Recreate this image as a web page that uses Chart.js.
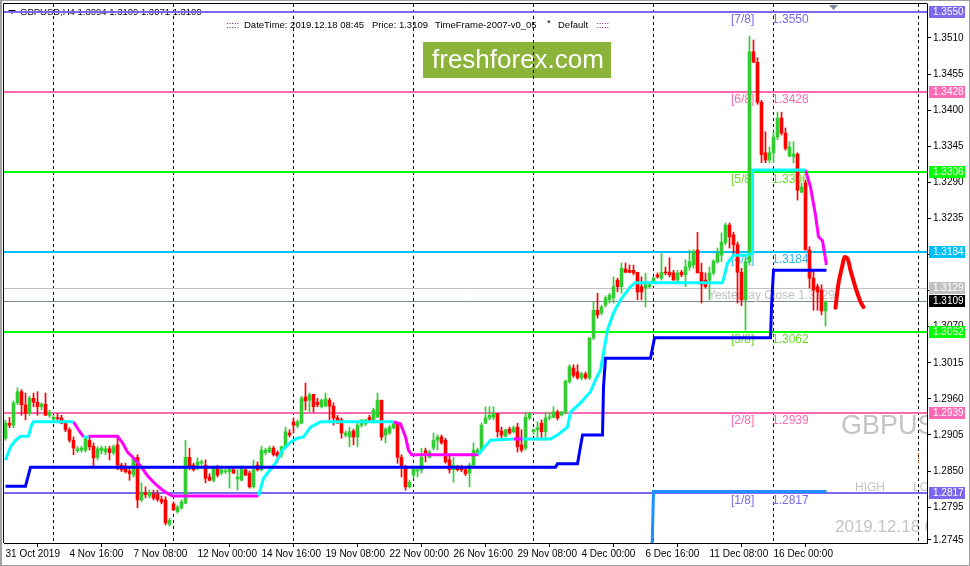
<!DOCTYPE html>
<html>
<head>
<meta charset="utf-8">
<script src="https://cdn.jsdelivr.net/npm/chart.js@4.4.0/dist/chart.umd.min.js"></script>
<style>
  html, body { margin: 0; padding: 0; background: #fff; overflow: hidden; }
  #wrap { width: 970px; height: 566px; }
</style>
</head>
<body>
<div id="wrap"><canvas id="chart" width="970" height="566"></canvas></div>
<script>
// GBPUSD H4, one candle per bar index (0 = 31 Oct 2019 00:00)
const opens = [
  1.2900,1.2923,1.2920,1.2954,1.2971,1.2951,1.2938,1.2961,1.2955,1.2948,
  1.2952,1.2935,1.2929,1.2931,1.2931,1.2923,1.2913,1.2897,1.2881,1.2882,
  1.2882,1.2897,1.2888,1.2871,1.2881,1.2879,1.2884,1.2878,1.2890,1.2859,
  1.2855,1.2850,1.2844,1.2871,1.2806,1.2817,1.2812,1.2815,1.2815,1.2807,
  1.2806,1.2769,1.2800,1.2788,1.2794,1.2801,1.2871,1.2859,1.2859,1.2862,
  1.2859,1.2841,1.2836,1.2855,1.2847,1.2849,1.2849,1.2852,1.2838,1.2836,
  1.2852,1.2847,1.2826,1.2859,1.2852,1.2878,1.2879,1.2885,1.2878,1.2875,
  1.2887,1.2908,1.2925,1.2919,1.2923,1.2963,1.2958,1.2967,1.2955,1.2948,
  1.2949,1.2958,1.2949,1.2931,1.2928,1.2905,1.2902,1.2911,1.2902,1.2920,
  1.2922,1.2932,1.2928,1.2932,1.2958,1.2905,1.2908,1.2916,1.2922,1.2871,
  1.2855,1.2826,1.2844,1.2850,1.2852,1.2881,1.2871,1.2885,1.2897,1.2902,
  1.2897,1.2867,1.2852,1.2856,1.2856,1.2852,1.2847,1.2859,1.2878,1.2882,
  1.2923,1.2931,1.2932,1.2938,1.2911,1.2903,1.2914,1.2910,1.2917,1.2890,
  1.2885,1.2931,1.2910,1.2913,1.2923,1.2910,1.2931,1.2932,1.2940,1.2935,
  1.2940,1.2986,1.3007,1.3001,1.2992,1.2998,1.2992,1.3053,1.3095,1.3091,
  1.3103,1.3111,1.3114,1.3141,1.3131,1.3158,1.3156,1.3156,1.3153,1.3131,
  1.3129,1.3131,1.3138,1.3149,1.3144,1.3153,1.3153,1.3152,1.3141,1.3153,
  1.3149,1.3161,1.3164,1.3187,1.3153,1.3141,1.3141,1.3152,1.3169,1.3179,
  1.3198,1.3225,1.3210,1.3195,1.3153,1.3111,1.3169,1.3489,1.3473,1.3412,
  1.3335,1.3324,1.3335,1.3359,1.3388,1.3365,1.3330,1.3329,1.3333,1.3275,
  1.3289,1.3187,1.3144,1.3131,1.3126,1.3094
];
const highs = [
  1.2928,1.2932,1.2957,1.2977,1.2974,1.2969,1.2964,1.2969,1.2971,1.2954,
  1.2969,1.2943,1.2935,1.2938,1.2935,1.2926,1.2916,1.2902,1.2888,1.2888,
  1.2903,1.2902,1.2893,1.2887,1.2888,1.2888,1.2888,1.2890,1.2902,1.2862,
  1.2862,1.2855,1.2873,1.2875,1.2832,1.2826,1.2821,1.2821,1.2821,1.2812,
  1.2811,1.2778,1.2803,1.2798,1.2806,1.2897,1.2885,1.2862,1.2870,1.2867,
  1.2867,1.2846,1.2858,1.2859,1.2853,1.2853,1.2856,1.2855,1.2852,1.2858,
  1.2855,1.2850,1.2867,1.2864,1.2888,1.2885,1.2888,1.2888,1.2881,1.2888,
  1.2917,1.2913,1.2931,1.2928,1.2964,1.2984,1.2969,1.2967,1.2961,1.2960,
  1.2969,1.2961,1.2954,1.2935,1.2931,1.2911,1.2917,1.2914,1.2923,1.2928,
  1.2929,1.2935,1.2946,1.2969,1.2958,1.2916,1.2920,1.2923,1.2923,1.2875,
  1.2859,1.2836,1.2858,1.2856,1.2885,1.2885,1.2882,1.2908,1.2905,1.2905,
  1.2900,1.2875,1.2871,1.2859,1.2859,1.2855,1.2862,1.2893,1.2885,1.2923,
  1.2948,1.2948,1.2948,1.2938,1.2917,1.2914,1.2917,1.2919,1.2923,1.2913,
  1.2940,1.2940,1.2914,1.2925,1.2928,1.2940,1.2940,1.2948,1.2943,1.2941,
  1.2989,1.3012,1.3012,1.3012,1.3001,1.3001,1.3053,1.3108,1.3121,1.3103,
  1.3117,1.3121,1.3146,1.3144,1.3167,1.3167,1.3164,1.3164,1.3153,1.3146,
  1.3152,1.3137,1.3146,1.3152,1.3182,1.3161,1.3175,1.3156,1.3156,1.3156,
  1.3172,1.3187,1.3187,1.3214,1.3167,1.3152,1.3161,1.3172,1.3190,1.3213,
  1.3228,1.3228,1.3214,1.3199,1.3159,1.3175,1.3513,1.3507,1.3480,1.3415,
  1.3367,1.3344,1.3367,1.3397,1.3397,1.3373,1.3352,1.3352,1.3335,1.3289,
  1.3294,1.3192,1.3156,1.3135,1.3134,1.3109
];
const lows = [
  1.2897,1.2916,1.2916,1.2951,1.2935,1.2928,1.2935,1.2948,1.2935,1.2943,
  1.2935,1.2932,1.2926,1.2926,1.2922,1.2910,1.2894,1.2875,1.2878,1.2879,
  1.2879,1.2882,1.2856,1.2867,1.2876,1.2875,1.2867,1.2875,1.2852,1.2849,
  1.2847,1.2836,1.2841,1.2794,1.2803,1.2809,1.2809,1.2806,1.2804,1.2800,
  1.2768,1.2766,1.2790,1.2786,1.2792,1.2800,1.2852,1.2850,1.2852,1.2859,
  1.2832,1.2835,1.2833,1.2841,1.2844,1.2846,1.2824,1.2846,1.2821,1.2835,
  1.2843,1.2824,1.2824,1.2850,1.2850,1.2875,1.2878,1.2873,1.2864,1.2871,
  1.2884,1.2902,1.2908,1.2916,1.2922,1.2943,1.2940,1.2940,1.2948,1.2946,
  1.2948,1.2928,1.2920,1.2923,1.2900,1.2902,1.2887,1.2890,1.2887,1.2917,
  1.2919,1.2926,1.2923,1.2932,1.2897,1.2893,1.2906,1.2914,1.2862,1.2841,
  1.2821,1.2824,1.2839,1.2841,1.2847,1.2864,1.2870,1.2882,1.2882,1.2891,
  1.2862,1.2847,1.2833,1.2850,1.2849,1.2843,1.2826,1.2856,1.2875,1.2879,
  1.2922,1.2928,1.2928,1.2902,1.2897,1.2902,1.2906,1.2908,1.2879,1.2879,
  1.2882,1.2928,1.2906,1.2897,1.2897,1.2897,1.2928,1.2931,1.2928,1.2934,
  1.2937,1.2984,1.2993,1.2990,1.2989,1.2990,1.2989,1.3050,1.3083,1.3088,
  1.3100,1.3106,1.3106,1.3123,1.3121,1.3152,1.3152,1.3149,1.3111,1.3111,
  1.3100,1.3129,1.3137,1.3144,1.3141,1.3149,1.3146,1.3141,1.3137,1.3146,
  1.3131,1.3156,1.3159,1.3152,1.3106,1.3129,1.3111,1.3149,1.3167,1.3169,
  1.3195,1.3190,1.3176,1.3106,1.3102,1.3065,1.3164,1.3473,1.3409,1.3320,
  1.3320,1.3320,1.3320,1.3355,1.3362,1.3339,1.3329,1.3320,1.3263,1.3274,
  1.3187,1.3129,1.3095,1.3095,1.3088,1.3071
];
const closes = [
  1.2923,1.2920,1.2954,1.2971,1.2951,1.2938,1.2961,1.2955,1.2948,1.2952,
  1.2935,1.2940,1.2932,1.2930,1.2923,1.2913,1.2897,1.2885,1.2884,1.2885,
  1.2900,1.2887,1.2870,1.2884,1.2885,1.2884,1.2878,1.2887,1.2859,1.2852,
  1.2849,1.2846,1.2870,1.2806,1.2817,1.2814,1.2817,1.2809,1.2807,1.2803,
  1.2771,1.2775,1.2791,1.2795,1.2803,1.2871,1.2856,1.2852,1.2864,1.2864,
  1.2839,1.2836,1.2855,1.2844,1.2852,1.2850,1.2855,1.2847,1.2841,1.2855,
  1.2844,1.2826,1.2852,1.2852,1.2882,1.2882,1.2885,1.2875,1.2873,1.2887,
  1.2910,1.2905,1.2920,1.2925,1.2961,1.2957,1.2966,1.2948,1.2951,1.2958,
  1.2960,1.2949,1.2931,1.2923,1.2908,1.2908,1.2910,1.2902,1.2920,1.2928,
  1.2928,1.2928,1.2943,1.2958,1.2902,1.2914,1.2917,1.2922,1.2871,1.2856,
  1.2826,1.2833,1.2856,1.2852,1.2871,1.2878,1.2879,1.2897,1.2902,1.2893,
  1.2864,1.2852,1.2859,1.2852,1.2852,1.2846,1.2859,1.2882,1.2882,1.2920,
  1.2931,1.2935,1.2938,1.2910,1.2905,1.2913,1.2908,1.2916,1.2887,1.2882,
  1.2932,1.2938,1.2913,1.2916,1.2910,1.2931,1.2932,1.2940,1.2931,1.2940,
  1.2987,1.3009,1.2996,1.2992,1.2998,1.2992,1.3053,1.3095,1.3088,1.3100,
  1.3114,1.3118,1.3131,1.3131,1.3159,1.3153,1.3153,1.3152,1.3123,1.3123,
  1.3134,1.3134,1.3144,1.3146,1.3153,1.3152,1.3149,1.3141,1.3152,1.3149,
  1.3161,1.3169,1.3184,1.3152,1.3134,1.3131,1.3152,1.3170,1.3182,1.3199,
  1.3225,1.3207,1.3195,1.3153,1.3111,1.3169,1.3489,1.3473,1.3412,1.3332,
  1.3324,1.3335,1.3359,1.3388,1.3365,1.3342,1.3344,1.3333,1.3278,1.3283,
  1.3187,1.3144,1.3126,1.3123,1.3094,1.3109
];

// axis labels
const xTickIdx = [0, 16, 32, 48, 64, 80, 96, 112, 128, 144, 160, 176, 192];
const xTickLabels = ['31 Oct 2019', '4 Nov 16:00', '7 Nov 08:00', '12 Nov 00:00', '14 Nov 16:00',
  '19 Nov 08:00', '22 Nov 00:00', '26 Nov 16:00', '29 Nov 08:00', '4 Dec 00:00',
  '6 Dec 16:00', '11 Dec 08:00', '16 Dec 00:00'];
const yTicks = [1.3510, 1.3455, 1.3400, 1.3345, 1.3290, 1.3235, 1.3180, 1.3125,
  1.3070, 1.3015, 1.2960, 1.2905, 1.2850, 1.2795, 1.2745];
const weekSeparators = [12, 42, 72, 102, 132, 162, 192, 228.25];

// murrey levels
const levelPrices = [1.3550, 1.3428, 1.3306, 1.3184, 1.3062, 1.2939, 1.2817];
const levelNames = ['[7/8]', '[6/8]', '[5/8]', '[4/8]', '[3/8]', '[2/8]', '[1/8]'];
const yesterdayClose = 1.3129;
const lastPrice = 1.3109;
const barInfo = { symbol: 'GBPUSD,H4', open: 1.3094, high: 1.3109, low: 1.3071, close: 1.3109 };

// indicator lines: [bar index, price]
const supportStep = [[0,1.2827],[5,1.2827],[6.25,1.2856],[137.5,1.2856],[138,1.2861],[143,1.2861],
  [144.25,1.2905],[149.25,1.2905],[149.5,1.2978],[150,1.3022],[161.25,1.3022],[162.25,1.3053],
  [191.25,1.3053],[191.5,1.3100],[192,1.3156],[205.25,1.3156]];
const lowerStep = [[161.5,1.2700],[162,1.2819],[205.25,1.2819]];
const trailUp = [
  [[0,1.2867],[1.25,1.2887],[2.5,1.2897],[3.75,1.2903],[5.75,1.2903],[6.5,1.2920],[7,1.2925],[17,1.2925]],
  [[19.5,1.2902],[20.75,1.2902]],
  [[63.25,1.2812],[64.5,1.2839],[65.75,1.2849],[67.5,1.2862],[69.25,1.2882],[71.25,1.2894],[73,1.2900],
   [74.5,1.2902],[76.25,1.2917],[78.75,1.2925],[97,1.2925]],
  [[118.25,1.2875],[119.5,1.2885],[121.25,1.2897],[127,1.2899]],
  [[129.25,1.2899],[136.25,1.2899],[138,1.2905],[140.5,1.2917],[141.25,1.2940],[143.75,1.2954],
   [146.25,1.2971],[147.5,1.2989],[148.75,1.3004],[150.5,1.3065],[152,1.3091],[153.75,1.3111],
   [156.25,1.3131],[157.5,1.3137],[179.25,1.3137],[180.5,1.3167],[182,1.3179],[185.5,1.3179],
   [186.75,1.3182],[186.75,1.3309],[200,1.3309]]
];
const trailDown = [
  [[17,1.2925],[18.25,1.2913],[19.5,1.2902]],
  [[20.75,1.2903],[28,1.2903],[29.25,1.2893],[30.5,1.2879],[32,1.2870],[33.75,1.2858],[35.5,1.2843],
   [37.5,1.2830],[39.25,1.2821],[40.75,1.2815],[41.75,1.2812],[63.25,1.2812]],
  [[97,1.2925],[98.75,1.2922],[100,1.2902],[100.75,1.2882],[101.5,1.2875],[118.25,1.2875]],
  [[127,1.2899],[129.25,1.2899]],
  [[200,1.3309],[201.25,1.3283],[202.5,1.3240],[203.25,1.3207],[204.25,1.3201],[205.25,1.3164]]
];
const forecastSketch = [[207.5,1.3099],[208.25,1.3136],[209.25,1.3164],[209.75,1.3176],[210.5,1.3174],
  [211.25,1.3156],[212.5,1.3130],[213.75,1.3108],[214.5,1.3100]];

// ---------- styles ----------
const UP = '#32cd32', DOWN = '#ff0000';
const levelColors = ['#7b68ee', '#ff69b4', '#00ff00', '#00bfff', '#00ff00', '#ff69b4', '#7b68ee'];
const levelTextColors = ['#7b68ee', '#ff69b4', '#66dd22', '#33b5f0', '#66dd22', '#ff69b4', '#7b68ee'];
const SANS = '"Liberation Sans", Arial, sans-serif';
const AXIS_FONT = '10px ' + SANS;

const toPts = arr => arr.map(p => ({ x: p[0], y: p[1] }));
const joinSegments = segs => {
  const out = [];
  segs.forEach((s, k) => {
    if (k) out.push({ x: s[0][0] - 0.01, y: null });
    out.push(...toPts(s));
  });
  return out;
};

const idx = opens.map((_, i) => i);
const candleColor = idx.map(i => closes[i] >= opens[i] ? UP : DOWN);

const lineDs = (data, color, width) => ({
  type: 'line', data, borderColor: color, borderWidth: width, pointRadius: 0,
  tension: 0, spanGaps: false, order: 1, clip: 0
});

const decor = {
  id: 'decor',
  beforeDatasetsDraw(chart) {
    const { ctx, chartArea: a, scales: { x, y } } = chart;
    ctx.save();
    ctx.beginPath();
    ctx.rect(a.left, a.top, a.right - a.left, a.bottom - a.top);
    ctx.clip();
    ctx.textBaseline = 'middle';

    // header
    ctx.fillStyle = '#000';
    ctx.beginPath();
    ctx.moveTo(8, 10); ctx.lineTo(16, 10); ctx.lineTo(12, 14); ctx.closePath(); ctx.fill();
    ctx.font = '9.5px ' + SANS;
    ctx.fillText(barInfo.symbol + ' ' + [barInfo.open, barInfo.high, barInfo.low, barInfo.close].map(v => v.toFixed(4)).join(' '), 20, 12);

    ctx.fillStyle = '#800080';
    ctx.fillText(':::::', 226, 25);
    ctx.fillText(':::::', 596, 25);
    ctx.fillStyle = '#000';
    ctx.fillText('DateTime: 2019.12.18 08:45', 244, 25);
    ctx.fillText('Price: ' + lastPrice.toFixed(4), 372, 25);
    ctx.fillText('TimeFrame-2007-v0_05', 435, 25);
    ctx.fillText('*', 547, 23);
    ctx.fillText('Default', 558, 25);

    // watermark
    ctx.fillStyle = '#8cb43a';
    ctx.fillRect(423, 42, 188, 36);
    ctx.fillStyle = '#fff';
    ctx.font = '26px ' + SANS;
    ctx.fillText('freshforex.com', 432, 61);

    // symbol / info texts
    ctx.fillStyle = '#c4c4c4';
    ctx.font = '27px ' + SANS;
    ctx.fillText('GBPUSD', 841, 427);
    ctx.font = '12px ' + SANS;
    ctx.fillText('HIGH', 855, 488);
    ctx.fillText('LOW', 913, 488);
    ctx.font = '17px ' + SANS;
    ctx.fillText('2019.12.18 08:45', 835, 527);

    // week separators
    ctx.strokeStyle = '#000';
    ctx.lineWidth = 1;
    ctx.setLineDash([3, 3]);
    weekSeparators.forEach(s => {
      const px = Math.floor(x.getPixelForValue(s)) + 0.5;
      ctx.beginPath(); ctx.moveTo(px, a.top); ctx.lineTo(px, a.bottom); ctx.stroke();
    });
    ctx.strokeStyle = '#e0782a';
    ctx.setLineDash([2, 2]);
    ctx.beginPath(); ctx.moveTo(918.5, 453); ctx.lineTo(918.5, 464); ctx.stroke();
    ctx.setLineDash([]);

    // yesterday close & last price lines
    const yc = Math.round(y.getPixelForValue(yesterdayClose)) + 0.5;
    ctx.strokeStyle = '#c0c0c0';
    ctx.beginPath(); ctx.moveTo(a.left, yc); ctx.lineTo(a.right, yc); ctx.stroke();
    const yl = Math.round(y.getPixelForValue(lastPrice)) + 0.5;
    ctx.strokeStyle = '#778899';
    ctx.beginPath(); ctx.moveTo(a.left, yl); ctx.lineTo(a.right, yl); ctx.stroke();

    ctx.fillStyle = '#c0c0c0';
    ctx.font = '12px ' + SANS;
    ctx.fillText('Yesterday Close ' + yesterdayClose.toFixed(4), 708, 296);

    // murrey levels
    levelPrices.forEach((p, k) => {
      const py = Math.round(y.getPixelForValue(p));
      ctx.fillStyle = levelColors[k];
      ctx.fillRect(a.left, py - 1, a.right - a.left, 2);
      ctx.fillStyle = levelTextColors[k];
      ctx.font = '12px ' + SANS;
      ctx.fillText(levelNames[k], 731, py + 8);
      ctx.fillText(p.toFixed(4), 772, py + 8);
    });
    ctx.restore();
  },
  afterDraw(chart) {
    const { ctx, chartArea: a, scales: { y } } = chart;
    ctx.save();
    // frame
    ctx.strokeStyle = '#000';
    ctx.lineWidth = 1;
    ctx.beginPath();
    ctx.moveTo(3.5, a.bottom); ctx.lineTo(3.5, 3.5); ctx.lineTo(a.right + 0.5, 3.5);
    ctx.stroke();
    ctx.strokeStyle = '#a0a0a0';
    ctx.strokeRect(0.5, 0.5, 969, 565);
    ctx.fillStyle = '#a0a0a0';
    ctx.fillRect(0, 0, 2, 566);

    // shift marker
    ctx.fillStyle = '#7a8a9a';
    ctx.beginPath();
    ctx.moveTo(829, 5); ctx.lineTo(838, 5); ctx.lineTo(833.5, 10); ctx.closePath(); ctx.fill();

    // price tags
    const tag = (p, bg, fg) => {
      const py = Math.round(y.getPixelForValue(p));
      ctx.fillStyle = bg;
      ctx.fillRect(929, py - 6, 36, 12);
      ctx.fillStyle = fg;
      ctx.font = AXIS_FONT;
      ctx.textBaseline = 'middle';
      ctx.fillText(p.toFixed(4), 933, py + 0.5);
    };
    levelPrices.forEach((p, k) => tag(p, levelColors[k], '#fff'));
    tag(yesterdayClose, '#c0c0c0', '#fff');
    tag(lastPrice, '#000', '#fff');
    ctx.restore();
  }
};

new Chart(document.getElementById('chart'), {
  data: {
    datasets: [
      lineDs(toPts(lowerStep), '#1e90ff', 3),
      lineDs(toPts(supportStep), '#0000ff', 3),
      lineDs(joinSegments(trailUp), '#00ffff', 3),
      lineDs(joinSegments(trailDown), '#ff00ff', 3),
      Object.assign(lineDs(toPts(forecastSketch), '#ff0000', 4), { tension: 0.35, borderCapStyle: 'round', borderJoinStyle: 'round' }),
      {
        type: 'bar', order: 3, grouped: false, barThickness: 1,
        data: idx.map(i => ({ x: i, y: [lows[i], highs[i]] })),
        backgroundColor: candleColor, borderWidth: 0
      },
      {
        type: 'bar', order: 2, grouped: false, barThickness: 3, minBarLength: 1,
        data: idx.map(i => ({ x: i, y: [opens[i], closes[i]] })),
        backgroundColor: candleColor, borderWidth: 0
      }
    ]
  },
  options: {
    responsive: false,
    devicePixelRatio: 1,
    animation: false,
    events: [],
    layout: { padding: { left: 4, top: 4, right: 0, bottom: 0 }, autoPadding: false },
    plugins: { legend: { display: false }, tooltip: { enabled: false } },
    scales: {
      x: {
        type: 'linear', position: 'bottom', offset: false,
        min: -0.375, max: 230.375,
        grid: { drawOnChartArea: false, drawTicks: true, tickLength: 4, color: '#000' },
        border: { color: '#000' },
        ticks: {
          autoSkip: false, maxRotation: 0, align: 'start', padding: 1, color: '#000', font: { family: SANS, size: 10 },
          callback: v => xTickLabels[xTickIdx.indexOf(v)]
        },
        afterBuildTicks: s => { s.ticks = xTickIdx.map(v => ({ value: v })); },
        afterFit: s => { s.height = 23; s.paddingLeft = 0; s.paddingRight = 0; }
      },
      y: {
        type: 'linear', position: 'right',
        min: 1.27404, max: 1.35618,
        grid: { drawOnChartArea: false, drawTicks: true, tickLength: 4, color: '#000' },
        border: { color: '#000' },
        ticks: {
          padding: 2, color: '#000', font: { family: SANS, size: 10 },
          callback: v => v.toFixed(4)
        },
        afterBuildTicks: s => { s.ticks = yTicks.map(v => ({ value: v })); },
        afterFit: s => { s.width = 43; s.paddingTop = 0; s.paddingBottom = 0; }
      }
    }
  },
  plugins: [decor]
});
</script>
</body>
</html>
